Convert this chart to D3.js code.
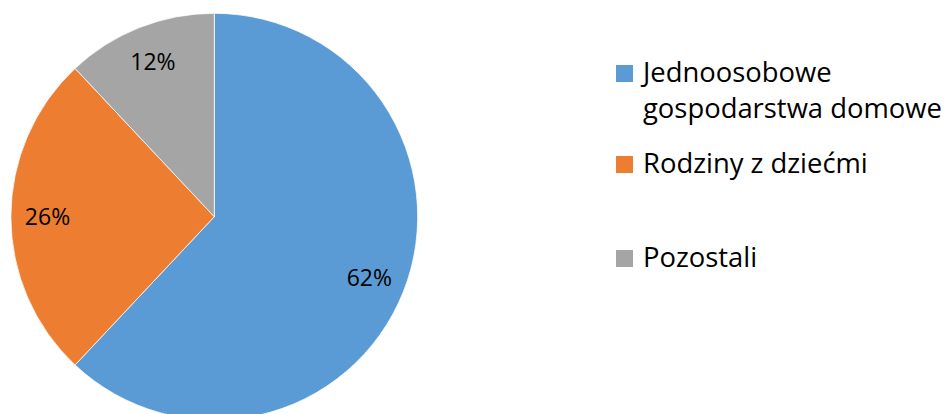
<!DOCTYPE html>
<html><head><meta charset="utf-8">
<script src="https://cdn.jsdelivr.net/npm/d3@7"></script>
<style>html,body{margin:0;padding:0;background:#fff;}svg{display:block;}</style>
</head><body>
<svg id="chart" width="951" height="414"></svg>
<script>
const categories = ["Jednoosobowe gospodarstwa domowe", "Rodziny z dziećmi", "Pozostali"];
const legendLines = [["Jednoosobowe", "gospodarstwa domowe"], ["Rodziny z dziećmi"], ["Pozostali"]];
const values = [62, 26, 12];
const valueLabels = ["62%", "26%", "12%"];
const colors = ["#5B9BD5", "#ED7D31", "#A5A5A5"];

const svg = d3.select("#chart");
const cx = 214.3, cy = 216.7, r = 203.4;
const font = "'Open Sans', sans-serif";

const pie = d3.pie().sort(null).value(d => d)(values);
const arc = d3.arc().innerRadius(0).outerRadius(r);
const labelArc = d3.arc().innerRadius(r * 0.82).outerRadius(r * 0.82);

const g = svg.append("g").attr("transform", `translate(${cx},${cy})`);
g.selectAll("path").data(pie).join("path")
  .attr("d", arc)
  .attr("fill", (d, i) => colors[i])
  .attr("stroke", "#fff").attr("stroke-width", 0.75);

g.selectAll("text").data(pie).join("text")
  .attr("transform", d => `translate(${labelArc.centroid(d)})`)
  .attr("text-anchor", "middle")
  .attr("dy", "0.35em")
  .attr("font-family", font).attr("font-size", 23).attr("fill", "#000")
  .text((d, i) => valueLabels[i]);

// legend
const legendFont = 27.4;
const lineH = 36;
const firstBaselines = [82, 173, 267];
const lg = svg.append("g");
legendLines.forEach((lines, i) => {
  const b = firstBaselines[i];
  lg.append("rect").attr("x", 616).attr("y", b - 17).attr("width", 17).attr("height", 17).attr("fill", colors[i]);
  const t = lg.append("text").attr("font-family", font).attr("font-size", legendFont).attr("fill", "#000");
  lines.forEach((ln, j) => {
    t.append("tspan").attr("x", 643).attr("y", b + j * lineH).text(ln);
  });
});
</script>
</body></html>
